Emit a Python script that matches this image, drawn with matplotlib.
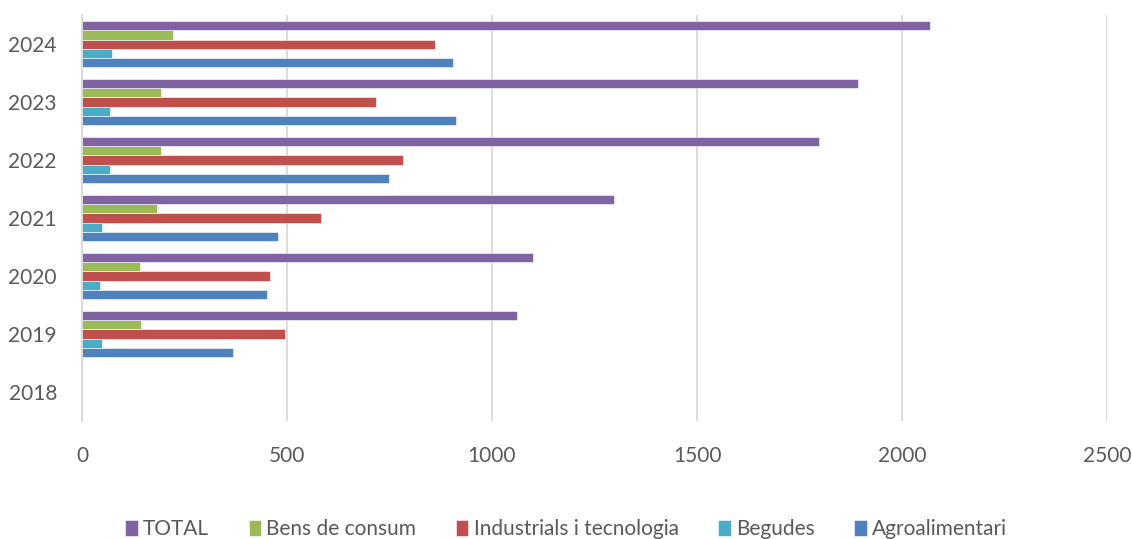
import numpy as np
import matplotlib.pyplot as plt

plt.rcParams['font.family'] = ['Lato', 'DejaVu Sans']

years = ['2018', '2019', '2020', '2021', '2022', '2023', '2024']
agroalimentari = [0, 369, 451, 479, 750, 911, 905]
begudes = [0, 49, 44, 49, 68, 68, 74]
industrials = [0, 494, 459, 584, 784, 718, 861]
bens_consum = [0, 145, 141, 183, 193, 193, 222]
total = [0, 1060, 1099, 1298, 1798, 1892, 2067]

series = [
    ('Agroalimentari', agroalimentari, '#4F81BD'),
    ('Begudes', begudes, '#4BACC6'),
    ('Industrials i tecnologia', industrials, '#C0504D'),
    ('Bens de consum', bens_consum, '#9BBB59'),
    ('TOTAL', total, '#8064A2'),
]

fig = plt.figure(figsize=(11.32, 5.39), dpi=100)
ax = fig.add_axes([0.0724, 0.219, 0.9056, 0.753])

y = np.arange(len(years))
h = 0.158
for i, (name, vals, col) in enumerate(series):
    ax.barh(y + (i - 2) * h, vals, height=h, color=col, label=name,
            edgecolor='white', linewidth=0.4)

ax.set_xlim(0, 2500)
ax.set_ylim(-0.5, len(years) - 0.5)
ax.set_xticks([0, 500, 1000, 1500, 2000, 2500])
ax.set_yticks(y)
ax.set_yticklabels(years)
ax.grid(axis='x', color='#d9d9d9', linewidth=1.3)
ax.set_axisbelow(True)
for s in ['top', 'right', 'bottom']:
    ax.spines[s].set_visible(False)
ax.spines['left'].set_color('#d9d9d9')
ax.spines['left'].set_linewidth(1.3)
ax.tick_params(axis='both', length=0, labelsize=15, colors='#595959')
ax.tick_params(axis='x', pad=18)
ax.tick_params(axis='y', pad=18)

handles, labels = ax.get_legend_handles_labels()
fig.legend(handles[::-1], labels[::-1], loc='center', bbox_to_anchor=(0.5, 0.018),
           ncol=5, frameon=False, fontsize=15, handlelength=0.6, handleheight=0.75,
           handletextpad=0.25, columnspacing=1.9, labelcolor='#595959')

fig.savefig('out.png', dpi=100)
